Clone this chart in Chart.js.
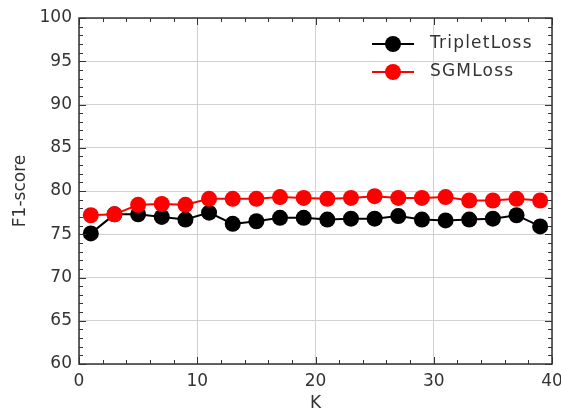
<!DOCTYPE html>
<html>
<head>
<meta charset="utf-8">
<script src="https://cdn.jsdelivr.net/npm/chart.js@4/dist/chart.umd.min.js"></script>
<style>
html,body{margin:0;padding:0;background:#fff;}
#wrap{width:561px;height:414px;position:relative;}
</style>
</head>
<body>
<div id="wrap"><canvas id="c" width="561" height="414"></canvas></div>
<script>
const kValues = [1,3,5,7,9,11,13,15,17,19,21,23,25,27,29,31,33,35,37,39];
const tripletLoss = [75.1,77.3,77.3,77.0,76.7,77.5,76.2,76.5,76.9,76.9,76.7,76.8,76.8,77.1,76.7,76.6,76.7,76.8,77.2,75.9];
const sgmLoss = [77.2,77.3,78.4,78.5,78.4,79.1,79.1,79.1,79.3,79.2,79.1,79.2,79.4,79.2,79.2,79.3,78.9,78.9,79.1,78.9];
const seriesNames = ['TripletLoss','SGMLoss'];
const seriesColors = ['#000000','#ff0000'];
const xTitle = 'K';
const yTitle = 'F1-score';

const FONT = "'DejaVu Sans', sans-serif";
const TXT = '#333333';

function pts(ys){ return kValues.map((k,i)=>({x:k,y:ys[i]})); }

const frameTicks = {
  id:'frameTicks',
  afterDraw(chart){
    const {ctx, chartArea:a, scales:{x,y}} = chart;
    ctx.save();
    ctx.strokeStyle = '#333';
    ctx.lineWidth = 1;
    ctx.beginPath();
    for(let v=0; v<=40; v+=2){
      const px = Math.round(x.getPixelForValue(v))+0.5;
      const len = v%10===0 ? 7 : 4;
      ctx.moveTo(px,a.bottom); ctx.lineTo(px,a.bottom-len);
      ctx.moveTo(px,a.top); ctx.lineTo(px,a.top+len);
    }
    for(let v=60; v<=100; v+=1){
      const py = Math.round(y.getPixelForValue(v))+0.5;
      const len = v%5===0 ? 7 : 4;
      ctx.moveTo(a.left,py); ctx.lineTo(a.left+len,py);
      ctx.moveTo(a.right,py); ctx.lineTo(a.right-len,py);
    }
    ctx.stroke();
    ctx.lineWidth = 1.5;
    ctx.strokeRect(a.left, a.top, a.right-a.left, a.bottom-a.top);
    // legend
    const lx0 = 372, lx1 = 414, mx = 393, tx = 430;
    const rows = [44, 72];
    ctx.font = "17px " + FONT;
    try { ctx.letterSpacing = '1.2px'; } catch(e) {}
    ctx.textBaseline = 'middle';
    rows.forEach((ry,i)=>{
      ctx.strokeStyle = seriesColors[i];
      ctx.fillStyle = seriesColors[i];
      ctx.lineWidth = 2;
      ctx.beginPath(); ctx.moveTo(lx0,ry); ctx.lineTo(lx1,ry); ctx.stroke();
      ctx.beginPath(); ctx.arc(mx,ry,8,0,Math.PI*2); ctx.fill();
      ctx.fillStyle = TXT;
      ctx.fillText(seriesNames[i], tx, ry);
    });
    ctx.restore();
  }
};

new Chart(document.getElementById('c'), {
  type:'line',
  data:{
    datasets:[
      {label:seriesNames[0], data:pts(tripletLoss), borderColor:seriesColors[0], backgroundColor:seriesColors[0],
       pointBackgroundColor:seriesColors[0], pointBorderColor:seriesColors[0], pointRadius:8, pointBorderWidth:0, borderWidth:2, order:1},
      {label:seriesNames[1], data:pts(sgmLoss), borderColor:seriesColors[1], backgroundColor:seriesColors[1],
       pointBackgroundColor:seriesColors[1], pointBorderColor:seriesColors[1], pointRadius:8, pointBorderWidth:0, borderWidth:2, order:0}
    ]
  },
  options:{
    responsive:false,
    animation:false,
    events:[],
    layout:{padding:{left:0,right:9,top:18,bottom:0}},
    plugins:{legend:{display:false}, tooltip:{enabled:false}},
    scales:{
      x:{type:'linear', min:0, max:40,
         ticks:{stepSize:10, color:TXT, font:{family:FONT,size:17}, padding:7},
         grid:{color:'#d0d0d0', lineWidth:1, drawTicks:false},
         border:{display:false},
         title:{display:true, text:xTitle, color:TXT, font:{family:FONT,size:17}, padding:{top:0,bottom:0}},
         afterFit(s){ s.height = 50; s.paddingRight = 0; s.paddingLeft = 0; }
      },
      y:{type:'linear', min:60, max:100,
         ticks:{stepSize:5, color:TXT, font:{family:FONT,size:17}, padding:7},
         grid:{color:'#d0d0d0', lineWidth:1, drawTicks:false},
         border:{display:false},
         title:{display:true, text:yTitle, color:TXT, font:{family:FONT,size:17}, padding:{top:10,bottom:0}},
         afterFit(s){ s.width = 79; s.paddingTop = 0; s.paddingBottom = 0; }
      }
    }
  },
  plugins:[frameTicks]
});
</script>
</body>
</html>
